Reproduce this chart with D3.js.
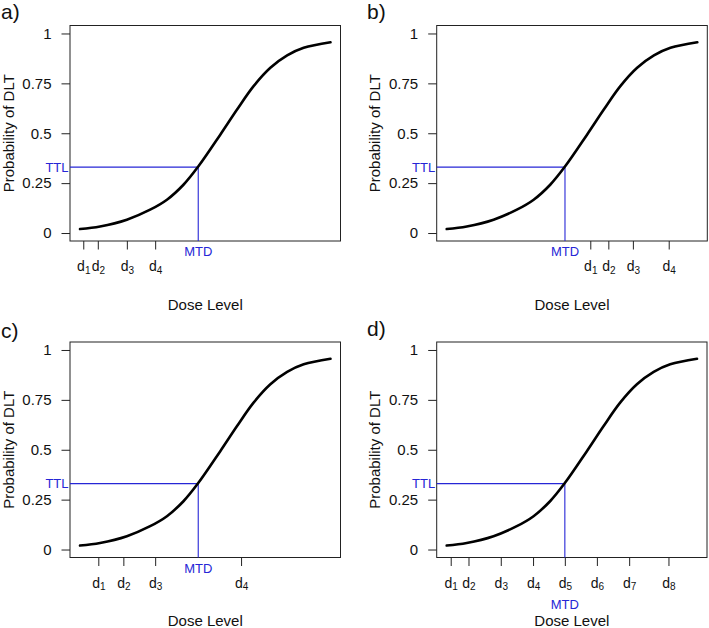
<!DOCTYPE html>
<html>
<head>
<meta charset="utf-8">
<script src="https://cdn.jsdelivr.net/npm/d3@7"></script>
<style>
  body { margin: 0; background: #fff; }
  svg { display: block; font-family: "Liberation Sans", Arial, sans-serif; }
</style>
</head>
<body>
<svg id="chart" width="709" height="628"></svg>
<script>
// dose-toxicity curve (dose units 0..10)
var curveDose = [0, 0.8, 1.87, 2.8, 3.47, 4.13, 4.72, 5.6, 6.27, 6.93, 7.6, 8.27, 8.93, 10];
var curveProb = [0.02, 0.033, 0.067, 0.117, 0.167, 0.242, 0.333, 0.493, 0.619, 0.736, 0.828, 0.89, 0.928, 0.956];

var yTicks = [0, 0.25, 0.5, 0.75, 1];
var yTickLabels = ['0', '0.25', '0.5', '0.75', '1'];

var ttl = 0.33;
var mtd = 4.72;

// dose levels for each scenario
var dosesA = [0.13, 0.71, 1.87, 3.0];
var dosesB = [5.73, 6.45, 7.43, 8.86];
var dosesC = [0.73, 1.73, 3.0, 6.43];
var dosesD = [0.16, 0.87, 2.16, 3.45, 4.72, 6.0, 7.29, 8.86];

var panelNames = ['a)', 'b)', 'c)', 'd)'];

var blue = '#2626d6';
var svg = d3.select('#chart');

var curveData = curveDose.map(function(d, i) { return [d, curveProb[i]]; });

function drawPanel(opt) {
  var g = svg.append('g').attr('class', 'panel');

  var x = d3.scaleLinear()
    .domain([-0.4, 10.4])
    .range([opt.left, opt.right]);

  var y = d3.scaleLinear()
    .domain([-0.04, 1.04])
    .range([opt.bottom, opt.top]);

  // y axis
  var axisY = d3.axisLeft(y)
    .tickValues(yTicks)
    .tickFormat(function(d, i) { return yTickLabels[i]; })
    .tickSize(8.5)
    .tickPadding(10);

  var gy = g.append('g')
    .attr('transform', 'translate(' + opt.left + ',0)')
    .call(axisY);
  gy.select('.domain').remove();
  gy.selectAll('line').attr('stroke', '#222');
  gy.selectAll('text')
    .attr('font-size', 15)
    .attr('fill', '#111')
    .attr('font-family', null);

  // x axis with subscripted dose labels
  var axisX = d3.axisBottom(x)
    .tickValues(opt.doses)
    .tickSize(8.5)
    .tickFormat('');

  var gx = g.append('g')
    .attr('transform', 'translate(0,' + opt.bottom + ')')
    .call(axisX);
  gx.select('.domain').remove();
  gx.selectAll('line').attr('stroke', '#222');

  gx.selectAll('.tick').each(function(d, i) {
    var t = d3.select(this).select('text')
      .attr('y', 30)
      .attr('dy', null)
      .attr('fill', '#111')
      .attr('font-family', null)
      .attr('text-anchor', 'middle');
    t.append('tspan').attr('font-size', 14).text('d');
    t.append('tspan').attr('font-size', 10).attr('dy', 2.5).text(i + 1);
  });

  // box
  g.append('rect')
    .attr('x', opt.left)
    .attr('y', opt.top)
    .attr('width', opt.right - opt.left)
    .attr('height', opt.bottom - opt.top)
    .attr('fill', 'none')
    .attr('stroke', '#222')
    .attr('stroke-width', 1);

  // TTL / MTD guides
  g.append('line')
    .attr('x1', opt.left)
    .attr('x2', x(mtd))
    .attr('y1', y(ttl))
    .attr('y2', y(ttl))
    .attr('stroke', blue)
    .attr('stroke-width', 1.1);

  g.append('line')
    .attr('x1', x(mtd))
    .attr('x2', x(mtd))
    .attr('y1', y(ttl))
    .attr('y2', opt.bottom)
    .attr('stroke', blue)
    .attr('stroke-width', 1.1);

  g.append('text')
    .attr('x', opt.left - 1.5)
    .attr('y', y(ttl) + 4.7)
    .attr('text-anchor', 'end')
    .attr('font-size', 13)
    .attr('fill', blue)
    .text('TTL');

  g.append('text')
    .attr('x', x(mtd))
    .attr('y', opt.bottom + opt.mtdOffset)
    .attr('text-anchor', 'middle')
    .attr('font-size', 13)
    .attr('fill', blue)
    .text('MTD');

  // curve
  var line = d3.line()
    .x(function(d) { return x(d[0]); })
    .y(function(d) { return y(d[1]); })
    .curve(d3.curveCatmullRom.alpha(0.5));

  g.append('path')
    .datum(curveData)
    .attr('d', line)
    .attr('fill', 'none')
    .attr('stroke', '#000')
    .attr('stroke-width', 2.6)
    .attr('stroke-linecap', 'round');

  // axis titles
  g.append('text')
    .attr('x', (opt.left + opt.right) / 2)
    .attr('y', opt.bottom + 68.5)
    .attr('text-anchor', 'middle')
    .attr('font-size', 15)
    .attr('fill', '#111')
    .text('Dose Level');

  g.append('text')
    .attr('transform', 'translate(' + (opt.left - 56.5) + ',' + ((opt.top + opt.bottom) / 2) + ') rotate(-90)')
    .attr('text-anchor', 'middle')
    .attr('font-size', 15)
    .attr('fill', '#111')
    .text('Probability of DLT');

  // panel letter
  g.append('text')
    .attr('x', opt.labelX)
    .attr('y', opt.labelY)
    .attr('font-size', 21)
    .attr('fill', '#111')
    .text(opt.name);
}

drawPanel({ name: panelNames[0], doses: dosesA, left: 70, right: 340.5, top: 25.5, bottom: 241, mtdOffset: 15, labelX: 1, labelY: 18.5 });
drawPanel({ name: panelNames[1], doses: dosesB, left: 436.7, right: 707.3, top: 25.5, bottom: 241, mtdOffset: 15, labelX: 367, labelY: 19 });
drawPanel({ name: panelNames[2], doses: dosesC, left: 70, right: 340.5, top: 342, bottom: 557.5, mtdOffset: 15, labelX: 1, labelY: 337.5 });
drawPanel({ name: panelNames[3], doses: dosesD, left: 436.7, right: 707, top: 342, bottom: 557.5, mtdOffset: 51, labelX: 367, labelY: 336 });
</script>
</body>
</html>
